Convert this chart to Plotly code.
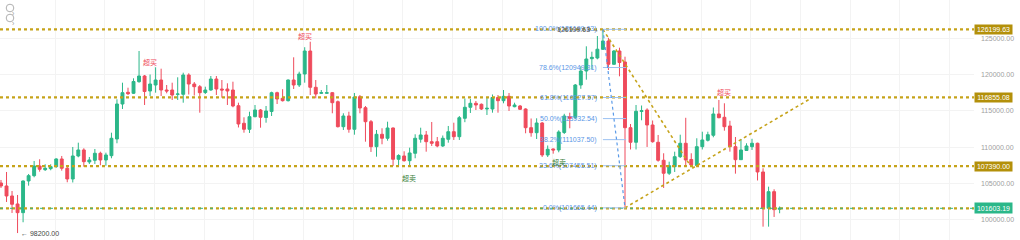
import plotly.graph_objects as go
from decimal import Decimal, ROUND_HALF_UP

# ---------------- data ----------------
opens = [105084, 104672, 103298, 102198, 101003, 105359, 106087, 107420, 106911, 107049,
         107323, 108381, 107104, 105633, 108794, 109618, 107969, 108203, 109165, 108244,
         108835, 111129, 115938, 117546, 117409, 119002, 119786, 117725, 118549, 119236,
         117862, 117862, 117271, 117271, 119923, 118686, 118315, 117519, 117862, 119373,
         117999, 117999, 117862, 115705, 113287, 112462, 114193, 115114, 114084, 114908,
         117491, 116722, 116392, 119236, 118549, 120060, 123221, 118233, 117409, 117409,
         117491, 116254, 112819, 114290, 112462, 116941, 115430, 113506, 110071, 111775,
         111226, 112641, 108340, 108794, 108148, 109165, 111102, 111679, 110758, 110758,
         110168, 111088, 112132, 111445, 113974, 115485, 116035, 115897, 115251, 115251,
         116832, 116392, 116996, 115567, 115664, 115251, 112682, 111995, 113328, 108931,
         109755, 109618, 112023, 114193, 114111, 118549, 120473, 122163, 122259, 123454,
         124595, 121393, 123221, 121709, 112682, 110676, 114908, 115114, 113053, 110676,
         108203, 106417, 107323, 108697, 110539, 108313, 107488, 110071, 110951, 111638,
         114564, 114111, 112916, 110071, 108285, 109549, 110071, 110539, 106595, 101608,
         103888, 101470]
highs = [105496, 106595, 103985, 103435, 105427, 106320, 108107, 108340, 107653, 107653,
         108478, 108794, 107323, 110030, 110621, 109852, 108656, 109755, 109384, 109247,
         111995, 116584, 118865, 118178, 119470, 123221, 119923, 119992, 120981, 120789,
         118549, 118865, 119607, 120239, 120157, 118961, 118549, 118315, 119786, 119786,
         119236, 118783, 119002, 116117, 114111, 114880, 115801, 115251, 115664, 117628,
         117628, 117972, 119305, 122355, 120376, 123743, 124498, 119236, 117862, 118549,
         117587, 116419, 114661, 114880, 117450, 117175, 115664, 113740, 112366, 112600,
         113506, 112710, 109027, 109439, 109934, 111775, 112682, 112229, 113465, 111404,
         111610, 112916, 113369, 114290, 116694, 116625, 116351, 116007, 116763, 117244,
         117175, 117862, 117450, 116117, 115801, 115348, 113946, 113974, 113465, 110236,
         109824, 112325, 114592, 114743, 118686, 121119, 123867, 123125, 125282, 126199.63,
         125034, 123358, 123674, 122438, 113190, 115801, 115732, 115348, 113671, 111679,
         109165, 108010, 109384, 111720, 114042, 109165, 111226, 112132, 112132, 115458,
         116488, 116035, 113630, 111404, 111129, 110539, 111157, 110621, 107104, 104575,
         104218, 101855]
lows = [104397, 102473, 100962, 98200, 99684, 104713, 105867, 106636, 106733, 106829,
        107186, 106774, 105180, 105153, 108615, 107323, 107694, 107694, 107516, 107461,
        108478, 110539, 115251, 117175, 117312, 118865, 115801, 117038, 117491, 117038,
        117409, 116488, 116488, 116117, 117244, 117106, 114743, 117312, 117766, 117175,
        116804, 115801, 115485, 112710, 111995, 111954, 114111, 112682, 113369, 114290,
        115938, 116282, 116282, 118000, 118274, 118865, 117175, 116722, 117312, 117312,
        114661, 112710, 112366, 111995, 111720, 114661, 110758, 109343, 108697, 110401,
        110896, 107420, 107461, 108010, 107420, 108478, 110621, 109384, 110168, 109989,
        110030, 110621, 110992, 110992, 113438, 114702, 115114, 115114, 114427, 114743,
        114743, 116035, 114977, 115485, 115114, 111913, 111445, 111129, 108656, 108656,
        109110, 109302, 111816, 112600, 113836, 118027, 119277, 120706, 122080, 123358,
        120610, 121297, 119744, 101665.44, 109687, 109687, 113699, 110030, 110621, 108010,
        104397, 106183, 106595, 108519, 107420, 107323, 107351, 109687, 110786, 111363,
        113974, 112270, 109384, 106362, 108244, 109480, 109618, 105427, 99079, 99079,
        100412, 100921]
closes = [104672, 103298, 102157, 101003, 105359, 106087, 107420, 106966, 107104, 107323,
          108381, 107104, 105633, 108794, 109618, 108010, 108244, 109165, 108244, 108931,
          111226, 115938, 117491, 117354, 119030, 119786, 117656, 118686, 119236, 117862,
          117725, 117175, 117312, 119923, 118686, 118315, 117491, 117862, 119373, 117999,
          117862, 117725, 115664, 113190, 112462, 114193, 115114, 114111, 114977, 117491,
          116625, 116392, 119236, 118549, 120060, 123221, 118233, 117312, 117491, 117491,
          116117, 112819, 114290, 112462, 116900, 115389, 113506, 110071, 111775, 111226,
          112641, 108340, 108862, 108148, 109206, 111226, 111679, 110758, 110539, 110168,
          111226, 112132, 111445, 114056, 115485, 116035, 115801, 115251, 115348, 116832,
          116392, 116996, 115664, 115801, 115210, 112682, 111995, 113328, 108931, 109714,
          109618, 112091, 114290, 113974, 118549, 120473, 122121, 122355, 123468, 124595,
          121393, 123221, 121641, 112682, 110676, 114935, 115018, 113053, 110758, 108203,
          106417, 107461, 108697, 110539, 108244, 107557, 110071, 110992, 111720, 114564,
          114056, 112819, 110071, 108285, 109618, 110168, 110539, 106595, 101608, 103888,
          101415, 101603.19]
candle_idx = list(range(len(opens)))

key_levels = [126199.63, 116855.08, 107390.00]
last_price = 101603.19
y_ticks = [100000, 105000, 110000, 115000, 120000, 125000]

fib_high, fib_low = 126199.63, 101665.44
fib_high_idx, fib_low_idx = 109, 113
fib_ratios = ["1.0", "0.786", "0.618", "0.5", "0.382", "0.236", "0.0"]

low_mark_idx, low_mark_val = 3, 98200.00

# trend lines: (idx0, price0, idx1, price1)
trend_lines = [(109, 126199.63, 124.8, 107500), (113, 101665.44, 147.0, 116855.08)]

# signal labels: (text, idx, price, kind)
signals = [("超买", 27.0, 121709, "sell"), ("超买", 55.0, 125213, "sell"),
           ("超卖", 73.9, 105702, "buy"), ("超卖", 101.0, 107832, "buy"),
           ("超买", 130.9, 117587, "sell")]

# ---------------- style ----------------
GREEN = "#2bb789"
RED = "#ef4b5c"
GOLD = "#c6a31a"
GOLD_BOX = "#b3900a"
BLUE = "#5a96e6"
FONT = "Liberation Sans, Arial, Noto Sans CJK SC"

fig = go.Figure()
fig.add_trace(go.Candlestick(
    x=candle_idx, open=opens, high=highs, low=lows, close=closes,
    increasing=dict(line=dict(color=GREEN, width=1), fillcolor=GREEN),
    decreasing=dict(line=dict(color=RED, width=1), fillcolor=RED),
    whiskerwidth=0, hoverinfo="skip"))

shapes = []
annotations = []

for v in key_levels:
    shapes.append(dict(type="line", xref="paper", x0=0, x1=1, yref="y", y0=v, y1=v,
                       line=dict(color=GOLD, width=2.2, dash="dot")))
    annotations.append(dict(xref="paper", x=1, xanchor="left", yref="y", y=v,
                            text=f"{v:.2f}", showarrow=False, bgcolor=GOLD_BOX,
                            font=dict(size=7, color="white", family=FONT),
                            width=37, height=9, borderpad=0))
shapes.append(dict(type="line", xref="paper", x0=0, x1=1, yref="y", y0=last_price, y1=last_price,
                   line=dict(color=GOLD, width=2.2, dash="dot")))
shapes.append(dict(type="line", xref="paper", x0=0, x1=1, yref="y", y0=last_price, y1=last_price,
                   line=dict(color=GREEN, width=1, dash="3px,7px")))
annotations.append(dict(xref="paper", x=1, xanchor="left", yref="y", y=last_price,
                        text=f"{last_price:.2f}", showarrow=False, bgcolor=GREEN,
                        font=dict(size=7, color="white", family=FONT),
                        width=37, height=10, borderpad=0))

for (a0, p0, a1, p1) in trend_lines:
    shapes.append(dict(type="line", xref="x", yref="y", x0=a0, y0=p0, x1=a1, y1=p1,
                       line=dict(color=GOLD, width=1.6, dash="dot")))

# fibonacci
dh, dl = Decimal(str(fib_high)), Decimal(str(fib_low))
for r in fib_ratios:
    lvl = (dl + Decimal(r) * (dh - dl)).quantize(Decimal("0.01"), rounding=ROUND_HALF_UP)
    shapes.append(dict(type="line", xref="x", yref="y", x0=fib_high_idx, x1=fib_low_idx + 0.2,
                       y0=float(lvl), y1=float(lvl), line=dict(color="#9cc2f2", width=1)))
    pct = (Decimal(r) * 100).quantize(Decimal("0.1"))
    annotations.append(dict(xref="x", x=fib_high_idx, xanchor="right", xshift=-4,
                            yref="y", y=float(lvl), text=f"{pct}%({lvl})", showarrow=False,
                            font=dict(size=7, color=BLUE, family=FONT)))
shapes.append(dict(type="line", xref="x", yref="y", x0=fib_high_idx, y0=fib_high,
                   x1=fib_low_idx, y1=fib_low, line=dict(color="#5a9ae8", width=1.2, dash="dot")))

annotations.append(dict(xref="x", x=fib_high_idx, xanchor="right", xshift=-2, yref="y", y=fib_high,
                        text=f"{fib_high:.2f} →", showarrow=False,
                        font=dict(size=7, color="#555555", family=FONT)))
annotations.append(dict(xref="x", x=low_mark_idx, xanchor="left", xshift=1, yref="y", y=low_mark_val,
                        text=f"← {low_mark_val:.2f}", showarrow=False,
                        font=dict(size=7, color="#444444", family=FONT)))

for (t, i, p, kind) in signals:
    annotations.append(dict(xref="x", x=i, yref="y", y=p, text=t, showarrow=False,
                            font=dict(size=7, color=RED if kind == "sell" else "#3a7f3a",
                                      family=FONT)))

# top-left icons
PW = 974.0
for cy in (8, 18):
    shapes.append(dict(type="circle", xref="paper", yref="paper",
                       x0=6.2 / PW, x1=13.8 / PW, y0=1 - (cy + 3.8) / 240, y1=1 - (cy - 3.8) / 240,
                       line=dict(color="#b0b0b0", width=1)))
    annotations.append(dict(xref="paper", yref="paper", x=10 / PW, y=1 - cy / 240,
                            text="›", showarrow=False,
                            font=dict(size=7, color="#a0a0a0", family=FONT)))

grid_x = [9.78 + 9 * k for k in range(20)]

fig.update_layout(
    width=1020, height=240, margin=dict(l=0, r=46, t=0, b=0),
    plot_bgcolor="white", paper_bgcolor="white", showlegend=False,
    font=dict(family=FONT),
    shapes=shapes, annotations=annotations, boxgap=0.25,
    xaxis=dict(range=[-0.18, 176.2], rangeslider=dict(visible=False), showticklabels=False,
               tickvals=grid_x, showgrid=True, gridcolor="#f3f3f3", zeroline=False,
               showline=False, ticks=""),
    yaxis=dict(side="right", range=[97246, 130231], tickvals=y_ticks, tickformat=".2f",
               tickfont=dict(size=7, color="#a0a0a0"), showgrid=True, gridcolor="#f3f3f3",
               zeroline=False, showline=False, ticks="", ticklabelstandoff=6),
)

fig.write_html("out.html")
